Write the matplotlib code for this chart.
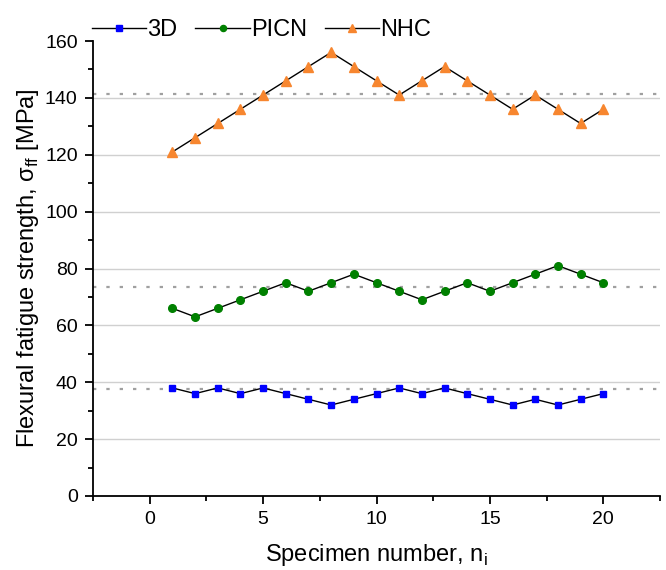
import matplotlib
matplotlib.use("Agg")
import matplotlib.pyplot as plt
from matplotlib.ticker import MultipleLocator

plt.rcParams["font.family"] = ["Liberation Sans", "DejaVu Sans"]
plt.rcParams["mathtext.fontset"] = "custom"
plt.rcParams["mathtext.rm"] = "Liberation Sans"

# -----------------------------
# Data
# -----------------------------
specimen = list(range(1, 21))
d3 = [38, 36, 38, 36, 38, 36, 34, 32, 34, 36, 38, 36, 38, 36, 34, 32, 34, 32, 34, 36]
picn = [66, 63, 66, 69, 72, 75, 72, 75, 78, 75, 72, 69, 72, 75, 72, 75, 78, 81, 78, 75]
nhc = [121, 126, 131, 136, 141, 146, 151, 156, 151, 146, 141, 146, 151, 146, 141, 136, 141, 136, 131, 136]
mean_lines = [37.5, 73.5, 141.3]

# -----------------------------
# Plot
# -----------------------------
fig = plt.figure(figsize=(6.66, 5.70), dpi=100)
ax = fig.add_axes([93 / 666, 1 - 496 / 570, 567 / 666, 455 / 570])

for y in range(20, 160, 20):
    ax.axhline(y, color="#d0d0d0", lw=1.0, zorder=0)
for m in mean_lines:
    ax.axhline(m, color="#a0a0a0", lw=1.6, dashes=(1.5, 4.5), zorder=1)

ax.plot(specimen, d3, color="black", lw=1, marker="s", ms=5,
        mfc="#0000ff", mec="#0000ff", label="3D", zorder=3)
ax.plot(specimen, picn, color="black", lw=1, marker="o", ms=5.5,
        mfc="#008000", mec="#008000", label="PICN", zorder=3)
ax.plot(specimen, nhc, color="black", lw=1, marker="^", ms=7,
        mfc="#f7862f", mec="#f7862f", label="NHC", zorder=3)

ax.set_xlim(-2.5, 22.5)
ax.set_ylim(0, 160)
ax.xaxis.set_major_locator(MultipleLocator(5))
ax.xaxis.set_minor_locator(MultipleLocator(2.5))
ax.yaxis.set_major_locator(MultipleLocator(20))
ax.yaxis.set_minor_locator(MultipleLocator(10))

for s in ["top", "right"]:
    ax.spines[s].set_visible(False)
for s in ["left", "bottom"]:
    ax.spines[s].set_linewidth(1.3)
ax.tick_params(which="major", direction="out", length=6, width=1.3, labelsize=14, pad=5)
ax.tick_params(which="minor", direction="out", length=3.5, width=1.3)

ax.set_xlabel("Specimen number, n$_\\mathrm{i}$", fontsize=17, labelpad=10)
ax.set_ylabel("Flexural fatigue strength, σ$_\\mathrm{ff}$ [MPa]", fontsize=17, labelpad=3)

leg = ax.legend(loc="lower left", bbox_to_anchor=(-0.01, 0.99), ncol=3, frameon=False,
                fontsize=17, handlelength=2.3, handletextpad=0.05, columnspacing=0.75,
                borderaxespad=0.0, borderpad=0.2, markerscale=0.8)

plt.savefig("out.png", dpi=100)
